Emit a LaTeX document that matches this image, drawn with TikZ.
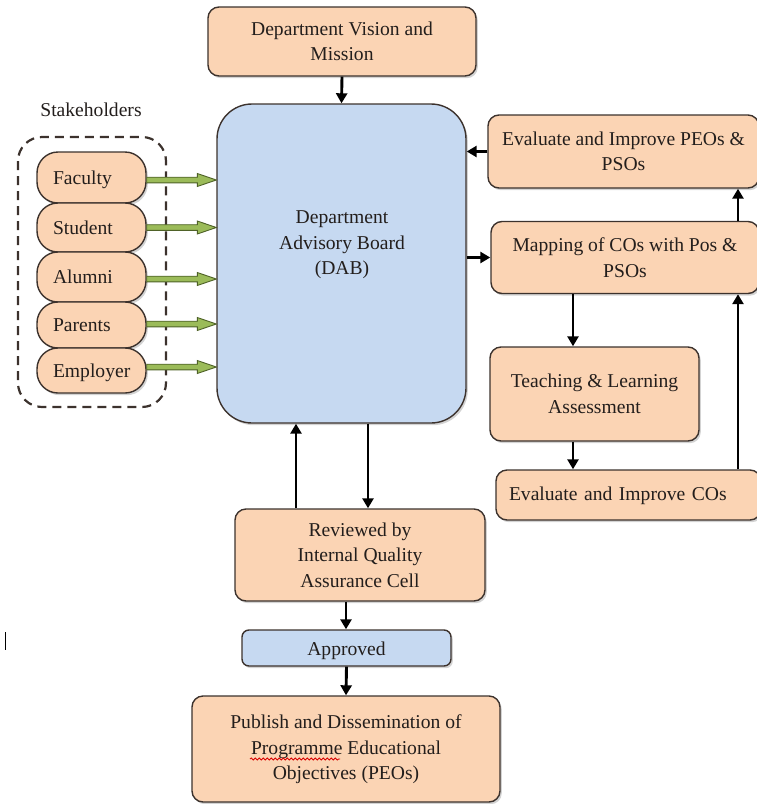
\documentclass[tikz,border=0pt]{standalone}
\usepackage{fontspec}
\setmainfont{Liberation Serif}
\usetikzlibrary{arrows.meta,shadows,calc,decorations.pathmorphing}

\definecolor{peach}{RGB}{251,212,180}
\definecolor{paleblue}{RGB}{198,217,241}
\definecolor{boxline}{RGB}{60,50,45}
\definecolor{txt}{RGB}{35,30,28}
\definecolor{arrowgreen}{RGB}{155,187,89}
\definecolor{arrowedge}{RGB}{79,98,40}

\tikzset{
  x=1pt, y=-1pt,
  every node/.style={font=\fontsize{19.6}{25.5}\selectfont, text=txt},
  boxbase/.style={draw=boxline, line width=1.4pt, rounded corners=11pt,
    align=center, inner sep=0pt,
    drop shadow={shadow xshift=1.8pt, shadow yshift=-2.2pt, opacity=0.35}},
  peachbox/.style={boxbase, fill=peach},
  bluebox/.style={boxbase, fill=paleblue},
  pill/.style={peachbox, rounded corners=21pt, minimum width=109pt,
    text width=77pt, align=left, text height=16pt, text depth=3pt},
  flow/.style={line width=2.9pt, -{Triangle[length=10pt,width=11pt]}},
}

% filled green block arrow between two points on one horizontal line
\newcommand{\greenarrow}[2]{%
  \path[fill=arrowgreen, draw=arrowedge, line width=0.9pt]
    let \p1=(#1), \p2=(#2) in
    (\x1,\y1+2.8pt) -- (\x2-19pt,\y1+2.8pt) -- (\x2-19pt,\y1+6.5pt) --
    (\x2,\y1) -- (\x2-19pt,\y1-6.5pt) -- (\x2-19pt,\y1-2.8pt) --
    (\x1,\y1-2.8pt) -- cycle;}

\begin{document}
\begin{tikzpicture}
\useasboundingbox (0,0) rectangle (757,804);

% top and central boxes
\node[peachbox, minimum width=268pt, minimum height=69pt] (vision) at (342,41.5)
  {Department Vision and\\Mission};
\node[bluebox, rounded corners=35pt, minimum width=249pt, minimum height=319pt]
  (dab) at (341.5,263.5) {};
\node (dablabel) at (342,245) [align=center] {Department\\Advisory Board\\(DAB)};

% stakeholders group
\node (stlabel) at (91,110) {Stakeholders};
\draw[boxline, line width=2.2pt, dash pattern=on 9pt off 6pt, rounded corners=24pt]
  (18,137) rectangle (166,407);
\node[pill, minimum height=51pt] (faculty)  at (91.5,177.5) {Faculty};
\node[pill, minimum height=49pt] (student)  at (91.5,227.5) {Student};
\node[pill, minimum height=50pt] (alumni)   at (91.5,277)   {Alumni};
\node[pill, minimum height=46pt] (parents)  at (91.5,325)   {Parents};
\node[pill, minimum height=45pt] (employer) at (91.5,370.5) {Employer};

\coordinate (fa) at ([yshift=-2.5pt]faculty.east);
\coordinate (sa) at (student.east);
\coordinate (aa) at ([yshift=-2pt]alumni.east);
\coordinate (pa) at ([yshift=1pt]parents.east);
\coordinate (ea) at ([yshift=3.5pt]employer.east);
\greenarrow{fa}{fa -| dab.west}
\greenarrow{sa}{sa -| dab.west}
\greenarrow{aa}{aa -| dab.west}
\greenarrow{pa}{pa -| dab.west}
\greenarrow{ea}{ea -| dab.west}

% right-hand loop
\node[peachbox, minimum width=271pt, minimum height=73pt] (peos) at (623.5,151.5)
  {Evaluate and Improve PEOs \&\\PSOs};
\node[peachbox, minimum width=268pt, minimum height=72pt] (mapping) at (625,257.5)
  {Mapping of COs with Pos \&\\PSOs};
\node[peachbox, minimum width=209pt, minimum height=94pt] (teaching) at (594.5,394)
  {Teaching \& Learning\\Assessment};
\node[peachbox, minimum width=265pt, minimum height=50pt, text width=239pt,
  inner xsep=13pt, align=left, text height=15pt, text depth=4pt]
  (evalcos) at (628.5,495) {Evaluate and Improve COs};

% review and publication chain
\node[peachbox, minimum width=250pt, minimum height=92pt] (reviewed) at (360,555)
  {Reviewed by\\Internal Quality\\Assurance Cell};
\node[bluebox, rounded corners=7pt, minimum width=209pt, minimum height=36pt,
  text height=16pt, text depth=2pt]
  (approved) at (346.5,648) {Approved};
\node[peachbox, minimum width=308pt, minimum height=106pt] (publish) at (346,749)
  {\raisebox{6pt}{\begin{tabular}{@{}c@{}}Publish and Dissemination of\\
   Programme Educational\\ Objectives (PEOs)\end{tabular}}};

% connectors
\draw[flow] (vision.south) -- (dab.north);
\draw[flow] (peos.west) -- (peos.west -| dab.east);
\draw[flow] (dab.east |- mapping.west) -- (mapping.west);
\draw[flow] ([xshift=-21.5pt]teaching.north |- mapping.south) -- ([xshift=-21.5pt]teaching.north);
\draw[flow] ([xshift=-21.5pt]teaching.south) -- ([xshift=-21.5pt]teaching.south |- evalcos.north);
\draw[flow] ([xshift=109.5pt]evalcos.north) -- ([xshift=109.5pt]evalcos.north |- mapping.south);
\draw[flow] ([xshift=113pt]mapping.north) -- ([xshift=113pt]mapping.north |- peos.south);
\draw[flow] ([xshift=-64pt]reviewed.north) -- ([xshift=-64pt]reviewed.north |- dab.south);
\draw[flow] ([xshift=8pt]reviewed.north |- dab.south) -- ([xshift=8pt]reviewed.north);
\draw[flow] ([xshift=-14pt]reviewed.south) -- ([xshift=-14pt]reviewed.south |- approved.north);
\draw[flow] (approved.south) -- (publish.north);

% spell-check squiggle under the word Programme
\draw[red!85!black, line width=0.8pt, decorate,
  decoration={snake, amplitude=1.1pt, segment length=4pt}] (250,759) -- (340,759);

% stray cursor mark at the left margin
\draw[black, line width=1pt] (5,632) -- (5,650);
\end{tikzpicture}
\end{document}
